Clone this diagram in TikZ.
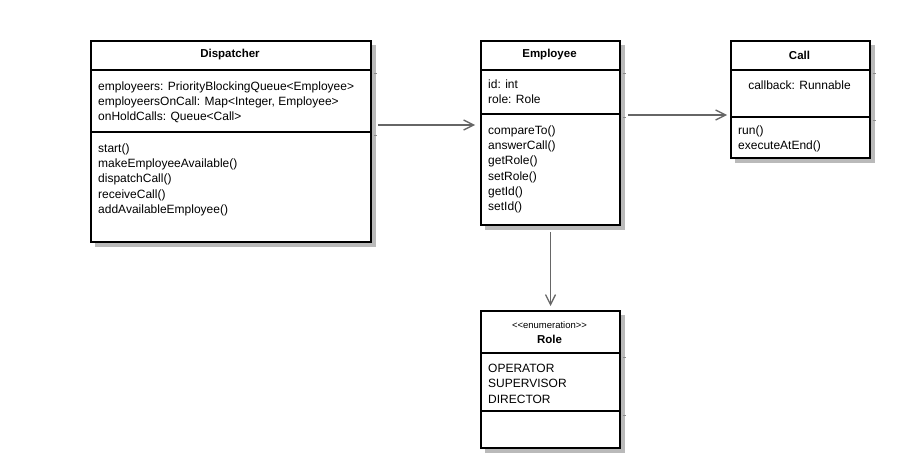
\documentclass[tikz,border=0pt]{standalone}
\usepackage{fontspec}
\setmainfont{Liberation Sans}
\usetikzlibrary{calc,backgrounds,arrows.meta}
\def\divider(#1)(#2){\draw[line width=2pt] (#1.west |- 0,#2) -- (#1.east |- 0,#2); \draw[stub] ($(#1.east |- 0,#2)+(1.5,4)$) -- ++(3.5,0);}
\def\shadowof(#1){\fill[boxshadow] ($(#1.north west)+(5,5)$) rectangle ($(#1.south east)+(4,4)$);}

\begin{document}
\begin{tikzpicture}[x=1pt,y=-1pt,
	classbox/.style={draw, line width=2pt, fill=white, inner sep=0pt, anchor=north west},
	boxshadow/.style={fill=black!27},
	title/.style={font=\fontsize{11.5}{13}\selectfont\bfseries, inner sep=0pt},
	members/.style={anchor=north west, align=left, inner sep=0pt, font=\fontsize{12}{15.3}\selectfont},
	stub/.style={draw=black!45, line width=1pt},
	assoc/.style={draw=black!60, line width=1.3pt, -{Straight Barb[length=10pt,width=10pt]}}]
			%%%%% START %%%%%
			\useasboundingbox (0,0) rectangle (898,468);
			
			\node[classbox, minimum width=280pt, minimum height=201pt] (disp) at (90,40) {};
			\node[classbox, minimum width=139pt, minimum height=184pt] (empl) at (480,40) {};
			\node[classbox, minimum width=139pt, minimum height=117pt] (call) at (730,40) {};
			\node[classbox, minimum width=139pt, minimum height=137pt] (role) at (480,310) {};
			
			% shadows
			\begin{scope}[on background layer]
				\shadowof(disp)
				\shadowof(empl)
				\shadowof(call)
				\shadowof(role)
			\end{scope}
			
			\divider(disp)(70)
			\divider(disp)(132)
			\divider(empl)(70)
			\divider(empl)(114)
			\divider(call)(70)
			\divider(call)(117)
			\divider(role)(353)
			\divider(role)(411)
			
			\node[title] (dispT) at (230,55) {Dispatcher};
			\node[members] (dispA) at (98,81.5) {employeers: PriorityBlockingQueue<Employee>\\employeersOnCall: Map<Integer, Employee>\\onHoldCalls: Queue<Call>};
			\node[members] (dispM) at (98,143.5) {start()\\makeEmployeeAvailable()\\dispatchCall()\\receiveCall()\\addAvailableEmployee()};
			
			\node[title] (emplT) at (549.5,55) {Employee};
			\node[members] (emplA) at (488,79.5) {id: int\\role: Role};
			\node[members] (emplM) at (488,125.5) {compareTo()\\answerCall()\\getRole()\\setRole()\\getId()\\setId()};
			
			\node[title] (callT) at (799.5,55) {Call};
			\node[members, anchor=center] (callA) at (799.5,85.5) {callback: Runnable};
			\node[members] (callM) at (738,125.5) {run()\\executeAtEnd()};
			
			\node[inner sep=0pt, font=\fontsize{9.5}{11}\selectfont] (roleS) at (549.5,325) {<{}<enumeration>{}>};
			\node[title] (roleT) at (549.5,339) {Role};
			\node[members] (roleA) at (488,364) {OPERATOR\\SUPERVISOR\\DIRECTOR};
			
			\draw[assoc] ($(disp.east |- 0,125)+(6,0)$) -- ($(empl.west |- 0,125)+(-5,0)$);
			\draw[assoc] ($(empl.east |- 0,115)+(7,0)$) -- ($(call.west |- 0,115)+(-3,0)$);
			\draw[assoc] ($(empl.south)+(0,6)$) -- ($(role.north)+(0,-4)$);
			%%%%% END %%%%%
\end{tikzpicture}
\end{document}
